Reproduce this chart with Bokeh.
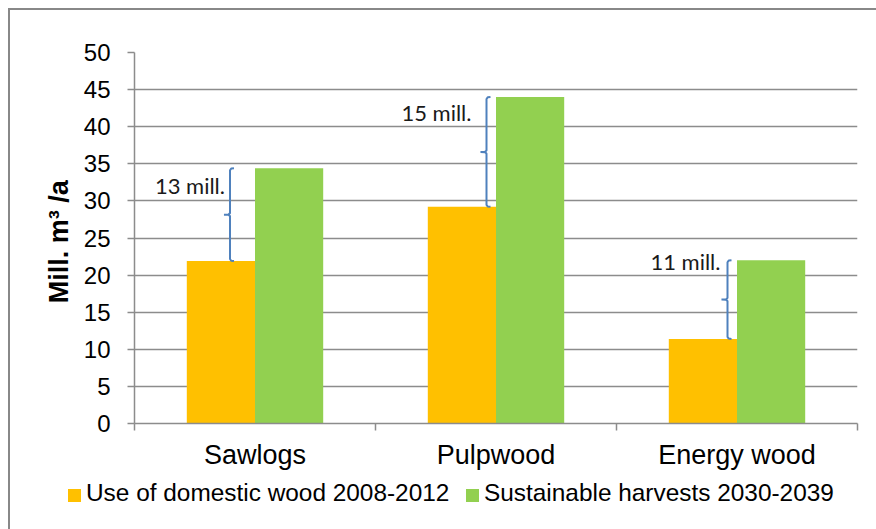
from bokeh.plotting import figure
from bokeh.layouts import column
from bokeh.models import Range1d, FixedTicker, ColumnDataSource, Div
from bokeh.transform import dodge
from bokeh.core.properties import value
from bokeh.embed import file_html
from bokeh.resources import INLINE

# Wood volumes, million m3 per year
categories = ["Sawlogs", "Pulpwood", "Energy wood"]
domestic_use = [21.9, 29.2, 11.4]        # Use of domestic wood 2008-2012
sustainable = [34.4, 44.0, 22.0]         # Sustainable harvests 2030-2039
gap_labels = ["13 mill.", "15 mill.", "11 mill."]
series_names = ["Use of domestic wood 2008-2012", "Sustainable harvests 2030-2039"]
y_ticks = [0, 5, 10, 15, 20, 25, 30, 35, 40, 45, 50]

ORANGE = "#FFC000"
GREEN = "#92D050"
GRID = "#8c8c8c"
BRACE = "#4F81BD"
EDGE = "#888888"
FONT = "Liberation Sans"

W = 876
H_CHART, H_KEY = 472, 57
LEFT, RIGHT, TOP, BOTTOM = 134, 19, 52, 48
frame_w = W - LEFT - RIGHT
frame_h = H_CHART - TOP - BOTTOM
n = len(categories)
px_x = n / frame_w       # one screen pixel in x units
px_y = 50 / frame_h      # one screen pixel in y units

# each category occupies one unit; its slot centre carries the label
centers = [i + 0.5 for i in range(n)]
boundaries = list(range(n + 1))

p = figure(width=W, height=H_CHART, x_range=Range1d(0, n), y_range=Range1d(0, 50),
           output_backend="svg", toolbar_location=None,
           min_border_left=LEFT, min_border_right=RIGHT,
           min_border_top=TOP, min_border_bottom=BOTTOM)
p.background_fill_color = "white"
p.border_fill_color = None
p.outline_line_color = None
p.xgrid.visible = False
# chart area border: top and left edges, painted behind the transparent canvas margin
p.styles = {
    "background": (f"linear-gradient({EDGE}, {EDGE}) 9px 8px / 100% 2px no-repeat, "
                   f"linear-gradient({EDGE}, {EDGE}) 8px 8px / 2px 100% no-repeat, white"),
}

xaxis = p.xaxis[0]
xaxis.ticker = FixedTicker(ticks=centers, minor_ticks=boundaries)
xaxis.major_label_overrides = {c: name for c, name in zip(centers, categories)}
xaxis.major_tick_line_color = None
xaxis.major_tick_out = 0
xaxis.major_tick_in = 0
xaxis.minor_tick_out = 7
xaxis.minor_tick_in = 0
xaxis.minor_tick_line_color = GRID
xaxis.minor_tick_line_width = 1.5
xaxis.axis_line_color = GRID
xaxis.axis_line_width = 1.5
xaxis.major_label_text_font = FONT
xaxis.major_label_text_font_size = "27px"
xaxis.major_label_text_color = "black"
xaxis.major_label_standoff = 9

yaxis = p.yaxis[0]
yaxis.ticker = FixedTicker(ticks=y_ticks)
yaxis.minor_tick_line_color = None
yaxis.major_tick_out = 7
yaxis.major_tick_in = 0
yaxis.major_tick_line_color = GRID
yaxis.major_tick_line_width = 1.5
yaxis.axis_line_color = GRID
yaxis.axis_line_width = 1.5
yaxis.major_label_text_font = FONT
yaxis.major_label_text_font_size = "24px"
yaxis.major_label_text_color = "black"
yaxis.major_label_standoff = 17
yaxis.axis_label = "Mill.  m\u00b3 /a"
yaxis.axis_label_text_font = FONT
yaxis.axis_label_text_font_style = "bold"
yaxis.axis_label_text_font_size = "27px"
yaxis.axis_label_text_color = "black"
yaxis.axis_label_standoff = 7

p.ygrid.ticker = FixedTicker(ticks=y_ticks[1:])
p.ygrid.grid_line_color = GRID
p.ygrid.grid_line_width = 1.5

src = ColumnDataSource(dict(pos=centers, cat=categories, dom=domestic_use, sus=sustainable))
bar_w = 0.283
p.vbar(x=dodge("pos", -bar_w / 2), top="dom", width=bar_w,
       source=src, fill_color=ORANGE, line_color=None)
p.vbar(x=dodge("pos", bar_w / 2), top="sus", width=bar_w,
       source=src, fill_color=GREEN, line_color=None)

# curly braces spanning the gap between the two bars of each category
brace_shift_px = [-25, -9.5, -9.5]      # brace spine relative to category centre
label_offsets_px = [(-5, 17), (-15, 15), (-7, 1)]
for i, (lo, hi) in enumerate(zip(domestic_use, sustainable)):
    xs0 = centers[i] + brace_shift_px[i] * px_x
    mid = (lo + hi) / 2
    hook = 4 * px_x
    nub = 6 * px_x
    bx = [xs0 + hook, xs0 + 1.2 * px_x, xs0, xs0, xs0 - 1.5 * px_x, xs0 - nub,
          xs0 - 1.5 * px_x, xs0, xs0, xs0 + 1.2 * px_x, xs0 + hook]
    by = [hi, hi - 0.3 * px_y, hi - 2 * px_y, mid + 1.5 * px_y, mid + 0.2 * px_y, mid,
          mid - 0.2 * px_y, mid - 1.5 * px_y, lo + 2 * px_y, lo + 0.3 * px_y, lo]
    p.line(bx, by, line_color=BRACE, line_width=2)
    dx, dy = label_offsets_px[i]
    p.text(x=[xs0], y=[hi], text=[gap_labels[i]],
           x_offset=dx, y_offset=dy, text_align="right", text_baseline="middle",
           text_font=value("Lato"), text_font_size="22px", text_color="#1a1a1a")

# series key under the chart
key_items = [(68, 86, ORANGE, series_names[0]), (466, 484, GREEN, series_names[1])]
parts = []
for sq_x, txt_x, colour, label in key_items:
    parts.append(f'<span style="position:absolute;left:{sq_x}px;top:17px;width:13px;'
                 f'height:13px;background:{colour};"></span>')
    parts.append(f'<span style="position:absolute;left:{txt_x}px;top:9px;line-height:1;'
                 f'white-space:nowrap;">{label}</span>')
key_html = (f'<div style="position:relative;width:{W}px;height:{H_KEY}px;'
            f"font-family:'{FONT}';font-size:24.4px;color:black;\">" + "".join(parts) + "</div>")
key = Div(text=key_html, width=W, height=H_KEY, margin=0,
          styles={"background": f"linear-gradient({EDGE}, {EDGE}) 8px 0px / 2px 100% no-repeat, white"})

layout = column(p, key, spacing=0)
open("out.html", "w").write(file_html(layout, INLINE))
